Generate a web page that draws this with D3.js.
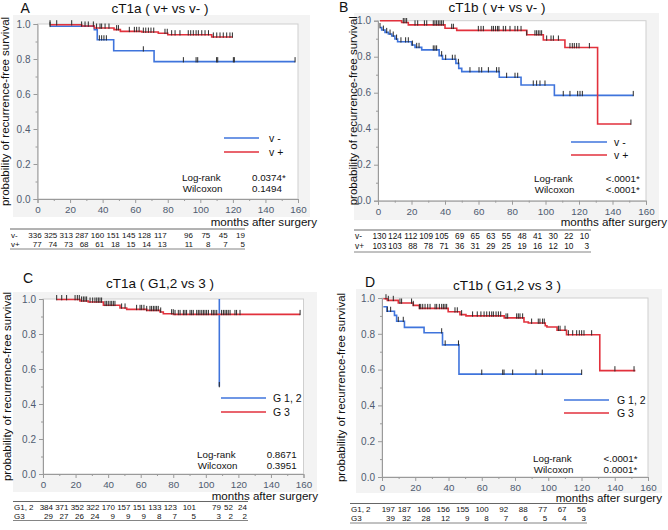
<!DOCTYPE html>
<html><head><meta charset="utf-8">
<script src="https://cdn.jsdelivr.net/npm/d3@7"></script>
<style>body{margin:0;background:#fff}svg{display:block}</style>
</head><body>
<svg id="chart" width="668" height="530"></svg>
<script>
// ================= DATA =================
const xTickValues = [0, 20, 40, 60, 80, 100, 120, 140, 160];
const yTickValues = [0, 0.2, 0.4, 0.6, 0.8, 1.0];
const panelLetters = ["A", "B", "C", "D"];
const panelTitles = ["cT1a ( v+ vs v- )", "cT1b ( v+ vs v- )", "cT1a ( G1,2 vs 3 )", "cT1b ( G1,2 vs 3 )"];
const legendV = ["v -", "v +"];
const legendG = ["G 1, 2", "G 3"];
const statNames = ["Log-rank", "Wilcoxon"];
const statsA = ["0.0374*", "0.1494"];
const statsB = ["<.0001*", "<.0001*"];
const statsC = ["0.8671", "0.3951"];
const statsD = ["<.0001*", "0.0001*"];
const yAxisTitle = "probability of recurrence-free survival";
const xAxisTitle = "months after surgery";

// numbers at risk
const riskRowsV = ["v-", "v+"];
const riskRowsG = ["G1, 2", "G3"];
const riskA1 = [336, 325, 313, 287, 160, 151, 145, 128, 117, 96, 75, 45, 19];
const riskA2 = [77, 74, 73, 68, 61, 18, 15, 14, 13, 11, 8, 7, 5];
const riskB1 = [130, 124, 112, 109, 105, 69, 65, 63, 55, 48, 41, 30, 22, 10];
const riskB2 = [103, 103, 88, 78, 71, 36, 31, 29, 25, 19, 16, 12, 10, 3];
const riskC1 = [384, 371, 352, 322, 170, 157, 151, 133, 123, 101, 79, 52, 24];
const riskC2 = [29, 27, 26, 24, 9, 9, 9, 8, 7, 5, 3, 2, 2];
const riskD1 = [197, 187, 166, 156, 155, 100, 92, 88, 77, 67, 56];
const riskD2 = [39, 32, 28, 12, 9, 8, 7, 6, 5, 4, 3];

// Kaplan-Meier steps: [month, survival from this month on]
const kmA1 = [[7.7,0.987],[34.9,0.968],[36.7,0.910],[46.8,0.847],[71.6,0.785],[158.2,0.785]];
const censA1 = [7.7,38.0,39.4,40.8,42.3,65.0,89.6,97.4,98.4,110.0,110.7,120.3,120.9,158.2];
const kmA2 = [[7.7,0.996],[27.1,0.989],[34.9,0.977],[47.0,0.968],[50.9,0.958],[64.0,0.954],[74.2,0.947],[80.0,0.939],[107.0,0.926],[119.9,0.926]];
const censA2 = [7.7,11.8,21.0,27.1,29.2,31.2,34.3,36.3,38.4,39.4,41.5,43.9,48.6,49.7,56.4,59.5,60.9,62.4,65.0,66.5,68.1,69.7,71.4,78.3,79.7,82.4,84.5,87.5,92.6,94.1,95.7,97.4,98.8,100.9,102.9,105.0,108.0,110.1,112.1,114.1,116.2,118.2,119.7];

const kmB1 = [[1.2,0.962],[2.2,0.948],[4.2,0.935],[6.2,0.926],[8.2,0.915],[10.1,0.898],[11.7,0.883],[20.1,0.865],[22.1,0.852],[26.1,0.838],[36.5,0.806],[38.5,0.786],[46.5,0.763],[48.2,0.735],[50.0,0.717],[72.4,0.686],[85.4,0.643],[105.3,0.585],[152.4,0.585]];
const censB1 = [1.2,3.2,5.2,7.2,9.1,11.1,13.7,16.5,18.1,20.5,23.1,24.5,33.0,34.0,35.0,38.0,40.4,44.4,46.0,48.0,54.9,60.3,61.9,65.9,70.8,72.2,76.8,81.8,83.4,92.7,94.7,96.7,99.7,110.6,114.6,119.2,120.6,122.0,152.4];
const kmB2 = [[1.2,1.0],[14.1,0.99],[18.1,0.977],[40.0,0.958],[47.0,0.946],[88.8,0.922],[98.7,0.893],[111.6,0.851],[131.1,0.426],[151.0,0.426]];
const censB2 = [15.1,16.1,17.1,22.1,23.7,27.7,29.1,33.0,34.0,35.0,36.0,37.0,38.0,39.0,44.0,45.0,59.9,61.5,62.9,67.9,68.9,70.2,71.4,72.2,74.8,76.2,78.8,81.8,83.4,85.4,88.8,93.7,94.7,95.7,96.7,97.7,100.7,103.3,104.7,107.7,114.6,116.0,117.2,118.6,120.0,126.2,151.0];

// G1,2 curve in C: only its single drop is visible (the 1.0 level lies on the frame)
const kmC1 = [[108.3,1.0],[108.3,0.5],[108.3,0.5]];
const censC1 = [108.3];
const kmC2 = [[8.4,0.997],[22.7,0.989],[27.8,0.983],[37.1,0.964],[47.3,0.949],[51.4,0.941],[63.7,0.935],[71.9,0.926],[73.9,0.916],[80.1,0.912],[157.9,0.912]];
const censC2 = [8.4,11.5,14.5,19.7,21.1,22.3,23.7,24.8,25.8,26.8,28.9,30.5,31.9,33.0,34.0,35.0,36.0,38.1,39.1,40.1,41.2,42.2,43.2,44.2,48.3,50.4,57.5,59.6,60.6,62.0,63.7,65.7,66.7,67.8,68.8,69.8,70.8,72.3,79.0,80.0,81.1,83.1,84.2,86.2,87.2,88.2,90.3,91.3,92.3,94.4,95.4,96.4,97.5,98.5,99.5,100.5,101.6,103.6,104.6,105.6,106.7,109.7,110.8,111.8,112.8,113.8,114.9,117.9,118.9,121.0,157.9];

const kmD1 = [[0.8,0.951],[3.0,0.926],[7.5,0.903],[8.8,0.870],[13.5,0.836],[25.3,0.806],[36.4,0.738],[46.3,0.575],[120.3,0.575]];
const censD1 = [3.2,5.2,9.8,12.8,35.9,38.0,46.0,60.0,72.6,73.4,78.6,92.6,96.4,120.1];
const kmD2 = [[0.8,0.996],[3.2,0.987],[9.8,0.972],[18.8,0.959],[22.5,0.942],[39.8,0.923],[46.9,0.907],[50.5,0.9],[73.5,0.889],[85.4,0.866],[88.0,0.86],[98.2,0.845],[99.2,0.838],[105.3,0.82],[111.0,0.795],[131.0,0.594],[152.4,0.594]];
const censD2 = [2.4,3.8,6.8,10.8,11.8,17.8,18.8,22.5,23.3,24.5,25.9,27.5,28.9,31.9,32.9,34.5,35.9,36.9,37.9,38.9,43.9,45.3,47.9,54.5,57.3,59.5,61.4,63.0,64.6,66.0,67.0,68.6,70.0,71.4,74.6,75.6,81.0,82.0,83.0,84.6,90.0,94.0,95.0,96.6,97.6,106.1,107.1,110.1,112.1,114.7,117.1,118.7,120.1,121.5,126.1,140.1,151.6];

// ================= STYLE / LAYOUT =================
const BLUE = "#3f74dc", RED = "#e2313c";
const FONT = "'Liberation Sans', Arial, Helvetica, sans-serif";
const svg = d3.select("#chart");

const layouts = [
  { x0: 37.5, x1: 298, yT: 24, yB: 199, bg: [13, 15, 310, 217],
    letter: [20.5, 12.5], title: [160, 12.5], ylab: 8.8,
    leg: [224, 259, 138, 152, 269], stat: [182, 252, 178, 188.3],
    xt: [317, 225.5],
    table: { x0: 10, x1: 245, lineT: 229, r1: 235, r2: 244, lineB: 249, idx: [0, 8, 9, 12], edge: [41.7, 166.7, 193, 245], fs: 8 } },
  { x0: 378, x1: 646, yT: 20.7, yB: 200.7, bg: [354, 13, 659, 220],
    letter: [339, 12], title: [497, 12], ylab: 356.5,
    leg: [571, 607, 142, 155, 614], stat: [534, 605.7, 179, 190],
    xt: [667, 225.5],
    table: { x0: 354, x1: 591, lineT: 230, r1: 236, r2: 246, lineB: 252, idx: [0, 13], edge: [386.3, 589], fs: 8.3 } },
  { x0: 43, x1: 303.5, yT: 299, yB: 474, bg: [13, 292, 317, 492],
    letter: [23, 283], title: [160, 288], ylab: 10.5,
    leg: [221, 266, 398, 412, 273], stat: [197, 266.7, 455, 466],
    xt: [318, 499.5],
    table: { x0: 13, x1: 248, lineT: 501.5, r1: 507.5, r2: 516, lineB: 520.5, idx: [0, 8, 9, 10, 11, 12], edge: [53, 177, 196, 221, 233, 247], fs: 8 } },
  { x0: 382, x1: 648, yT: 298, yB: 477, bg: [356, 289, 662, 493],
    letter: [365, 286.5], title: [507, 289.5], ylab: 345,
    leg: [564, 609, 400, 413, 617], stat: [533, 603.5, 459, 470],
    xt: [662, 501.5],
    table: { x0: 350, x1: 587, lineT: 503.5, r1: 509, r2: 518, lineB: 523, idx: [0, 1, 10], edge: [395, 411, 586], fs: 8 } }
];

const panelData = [
  { legend: legendV, stats: statsA, rows: riskRowsV, risk: [riskA1, riskA2], km: [kmA1, kmA2], cens: [censA1, censA2] },
  { legend: legendV, stats: statsB, rows: riskRowsV, risk: [riskB1, riskB2], km: [kmB1, kmB2], cens: [censB1, censB2] },
  { legend: legendG, stats: statsC, rows: riskRowsG, risk: [riskC1, riskC2], km: [kmC1, kmC2], cens: [censC1, censC2] },
  { legend: legendG, stats: statsD, rows: riskRowsG, risk: [riskD1, riskD2], km: [kmD1, kmD2], cens: [censD1, censD2] }
];

function survAt(steps, t) {
  let s = steps[0][1];
  for (const [tt, ss] of steps) { if (tt <= t + 1e-9) s = ss; }
  return s;
}

layouts.forEach((L, i) => {
  const D = panelData[i];
  const g = svg.append("g");
  const x = d3.scaleLinear().domain([0, 160]).range([L.x0, L.x1]);
  const y = d3.scaleLinear().domain([0, 1]).range([L.yB, L.yT]);

  g.append("rect").attr("x", L.bg[0]).attr("y", L.bg[1])
    .attr("width", L.bg[2] - L.bg[0]).attr("height", L.bg[3] - L.bg[1])
    .attr("fill", "#f3f3f3");
  g.append("rect").attr("x", L.x0).attr("y", L.yT)
    .attr("width", L.x1 - L.x0).attr("height", L.yB - L.yT)
    .attr("fill", "#fff").attr("stroke", "#cfcfcf").attr("stroke-width", 1);

  const yAx = g.append("g").attr("transform", `translate(${L.x0},0)`)
    .call(d3.axisLeft(y).tickValues(yTickValues).tickFormat(d3.format(".1f")).tickSize(4).tickPadding(3));
  yAx.select(".domain").attr("stroke", "#9a9a9a");
  yAx.selectAll(".tick line").attr("stroke", "#9a9a9a");
  yAx.selectAll("text").attr("font-family", FONT).attr("font-size", 10).attr("fill", "#4f5b70");
  g.append("g").attr("transform", `translate(${L.x0},0)`)
    .call(d3.axisLeft(y).tickValues(d3.range(0.1, 1, 0.2)).tickFormat("").tickSize(2))
    .call(s => { s.select(".domain").remove(); s.selectAll("line").attr("stroke", "#9a9a9a"); });

  const xAx = g.append("g").attr("transform", `translate(0,${L.yB})`)
    .call(d3.axisBottom(x).tickValues(xTickValues).tickSize(4).tickPadding(3.5));
  xAx.select(".domain").attr("stroke", "#9a9a9a");
  xAx.selectAll(".tick line").attr("stroke", "#9a9a9a");
  xAx.selectAll("text").attr("font-family", FONT).attr("font-size", 9.8).attr("fill", "#4f5b70");
  g.append("g").attr("transform", `translate(0,${L.yB})`)
    .call(d3.axisBottom(x).tickValues(d3.range(10, 160, 20)).tickFormat("").tickSize(2))
    .call(s => { s.select(".domain").remove(); s.selectAll("line").attr("stroke", "#9a9a9a"); });

  const line = d3.line().x(d => x(d[0])).y(d => y(d[1])).curve(d3.curveStepAfter);
  [BLUE, RED].forEach((c, k) => {
    g.append("path").datum(D.km[k]).attr("d", line)
      .attr("fill", "none").attr("stroke", c).attr("stroke-width", 1.6);
  });
  [0, 1].forEach(k => {
    g.append("g").selectAll("line").data(D.cens[k]).join("line")
      .attr("x1", t => x(t)).attr("x2", t => x(t))
      .attr("y1", t => y(survAt(D.km[k], t)) - 4.5)
      .attr("y2", t => y(survAt(D.km[k], t)) + 0.8)
      .attr("stroke", "#2a2a2a").attr("stroke-width", 1);
  });

  g.append("text").attr("x", L.letter[0]).attr("y", L.letter[1]).text(panelLetters[i])
    .attr("font-family", FONT).attr("font-size", 14).attr("fill", "#111");
  g.append("text").attr("x", L.title[0]).attr("y", L.title[1]).text(panelTitles[i])
    .attr("text-anchor", "middle").attr("font-family", FONT).attr("font-size", 13.5).attr("fill", "#111");

  g.append("text").attr("transform", `translate(${L.ylab},${(L.yT + L.yB) / 2}) rotate(-90)`)
    .attr("text-anchor", "middle").text(yAxisTitle)
    .attr("font-family", FONT).attr("font-size", 11.5).attr("fill", "#111");
  g.append("text").attr("x", L.xt[0]).attr("y", L.xt[1]).attr("text-anchor", "end").text(xAxisTitle)
    .attr("font-family", FONT).attr("font-size", 11.6).attr("fill", "#111");

  [BLUE, RED].forEach((c, k) => {
    const ly = k === 0 ? L.leg[2] : L.leg[3];
    g.append("line").attr("x1", L.leg[0]).attr("x2", L.leg[1]).attr("y1", ly).attr("y2", ly)
      .attr("stroke", c).attr("stroke-width", 1.6);
    g.append("text").attr("x", L.leg[4]).attr("y", ly).attr("dy", "0.35em").text(D.legend[k])
      .attr("font-family", FONT).attr("font-size", 10.5).attr("fill", "#111");
  });

  statNames.forEach((nm, k) => {
    const sy = k === 0 ? L.stat[2] : L.stat[3];
    g.append("text").attr("x", L.stat[0] + (k === 1 ? 0.7 : 0)).attr("y", sy).attr("dy", "0.35em").text(nm)
      .attr("font-family", FONT).attr("font-size", 9.8).attr("fill", "#111");
    g.append("text").attr("x", L.stat[1]).attr("y", sy).attr("dy", "0.35em").text(D.stats[k])
      .attr("font-family", FONT).attr("font-size", 9.8).attr("fill", "#111");
  });

  const T = L.table;
  const cx = d3.scaleLinear().domain(T.idx).range(T.edge);
  g.append("line").attr("x1", T.x0).attr("x2", T.x1).attr("y1", T.lineT).attr("y2", T.lineT)
    .attr("stroke", "#555").attr("stroke-width", 0.9);
  g.append("line").attr("x1", T.x0).attr("x2", T.x1).attr("y1", T.lineB).attr("y2", T.lineB)
    .attr("stroke", "#777").attr("stroke-width", 0.9);
  [T.r1, T.r2].forEach((ry, k) => {
    g.append("text").attr("x", T.x0 + 1).attr("y", ry).attr("dy", "0.35em").text(D.rows[k])
      .attr("font-family", FONT).attr("font-size", T.fs).attr("fill", "#111");
    g.append("g").selectAll("text").data(D.risk[k]).join("text")
      .attr("x", (d, j) => cx(j)).attr("y", ry).attr("dy", "0.35em")
      .attr("text-anchor", "end").text(d => d)
      .attr("font-family", FONT).attr("font-size", T.fs).attr("fill", "#111");
  });
});
</script>
</body></html>
